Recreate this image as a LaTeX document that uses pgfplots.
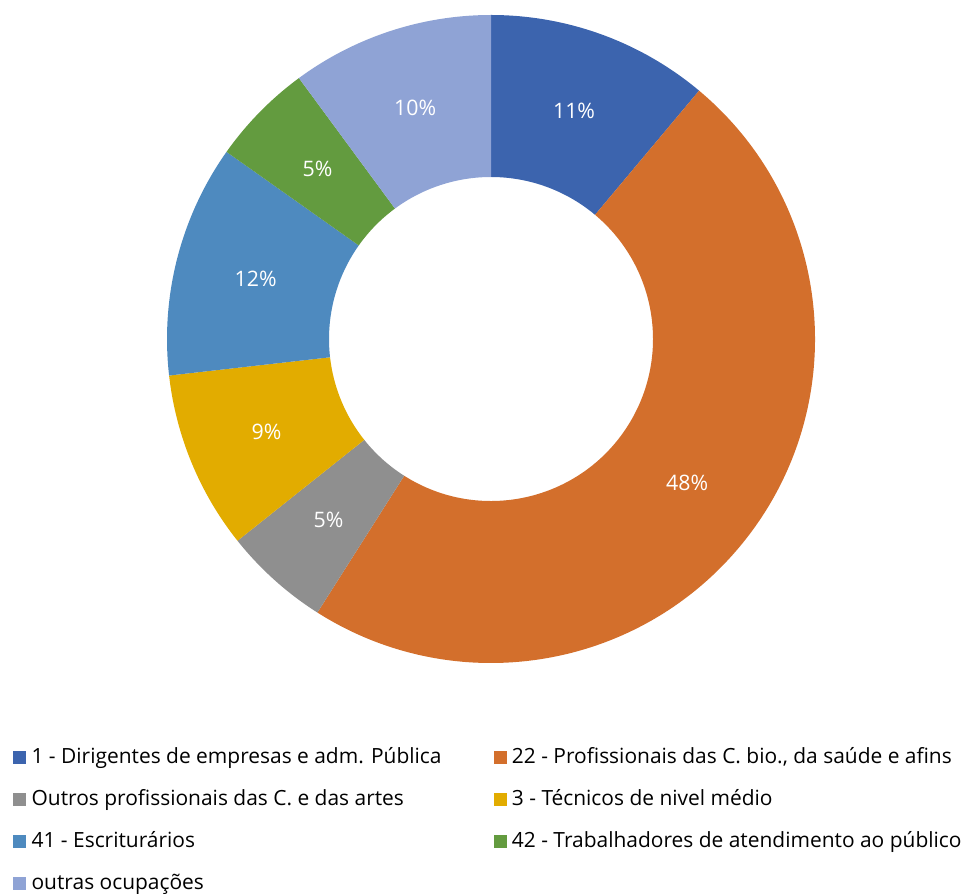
\documentclass[border=0pt]{standalone}
\usepackage{pgfplots}
\pgfplotsset{compat=1.18}
\usepackage{pgfplotstable}
\usepackage{fontspec}
\setmainfont{Open Sans}
\definecolor{c0}{HTML}{3C64AE}
\definecolor{c1}{HTML}{D36F2C}
\definecolor{c2}{HTML}{8F8F8F}
\definecolor{c3}{HTML}{E2AC00}
\definecolor{c4}{HTML}{4E8ABF}
\definecolor{c5}{HTML}{639B3F}
\definecolor{c6}{HTML}{8FA3D5}
\pgfplotsset{sq/.style={legend image code/.code={\fill[##1, draw=none] (0pt,-4.875pt) rectangle (9.75pt,4.875pt);}}}
\pgfplotstableread{
val
11.1
47.9
5.3
8.9
11.6
5.1
10.1
}\data
\newcommand\legfont{\fontsize{15.7}{18}\selectfont}
\newcommand\labfont{\fontsize{16}{18}\selectfont}
\begin{document}
\begin{tikzpicture}
\def\cx{491}\def\cy{553}\def\Ro{324}\def\Ri{162}
\def\cum{0}
\pgfplotsforeachungrouped \i in {0,...,6}{%
  \pgfplotstablegetelem{\i}{val}\of\data
  \let\v\pgfplotsretval
  \pgfmathsetmacro\a{90-3.6*\cum}%
  \pgfmathsetmacro\cum{\cum+\v}%
  \pgfmathsetmacro\b{90-3.6*\cum}%
  \pgfmathsetmacro\m{(\a+\b)/2}%
  \pgfmathsetmacro\ox{\cx+\Ro*cos(\a)}%
  \pgfmathsetmacro\oy{\cy+\Ro*sin(\a)}%
  \pgfmathsetmacro\ix{\cx+\Ri*cos(\b)}%
  \pgfmathsetmacro\iy{\cy+\Ri*sin(\b)}%
  \pgfmathsetmacro\lx{\cx+243*cos(\m)}%
  \pgfmathsetmacro\ly{\cy+243*sin(\m)}%
  \expandafter\xdef\csname sa\i\endcsname{\a}%
  \expandafter\xdef\csname sb\i\endcsname{\b}%
  \expandafter\xdef\csname ox\i\endcsname{\ox}%
  \expandafter\xdef\csname oy\i\endcsname{\oy}%
  \expandafter\xdef\csname ix\i\endcsname{\ix}%
  \expandafter\xdef\csname iy\i\endcsname{\iy}%
  \expandafter\xdef\csname lx\i\endcsname{\lx}%
  \expandafter\xdef\csname ly\i\endcsname{\ly}%
  \expandafter\xdef\csname sv\i\endcsname{\v}%
}
\begin{axis}[
  x=0.75pt, y=0.75pt,
  xmin=0, xmax=980, ymin=0, ymax=892,
  hide axis, clip=false,
  legend columns=2,
  legend cell align=left,
  legend style={at={(axis cs:13,145)}, anchor=north west, draw=none, fill=none,
    inner sep=0pt, font=\legfont, row sep=16.5pt,
    nodes={inner sep=0pt, text height=12pt, text depth=3pt},
    /tikz/every odd column/.append style={column sep=4pt},
    /tikz/every even column/.append style={column sep=39pt}},
]
\path (rel axis cs:0,0) rectangle (rel axis cs:1,1);
\pgfplotsinvokeforeach{0,...,6}{
  \fill[c#1] (axis cs:\csname ox#1\endcsname,\csname oy#1\endcsname)
    arc[start angle=\csname sa#1\endcsname, end angle=\csname sb#1\endcsname, radius=243pt]
    -- (axis cs:\csname ix#1\endcsname,\csname iy#1\endcsname)
    arc[start angle=\csname sb#1\endcsname, end angle=\csname sa#1\endcsname, radius=121.5pt]
    -- cycle;
  \node[text=white, font=\labfont] at (axis cs:\csname lx#1\endcsname,\csname ly#1\endcsname)
    {\pgfmathprintnumber[fixed,precision=0,assume math mode=true]{\csname sv#1\endcsname}\%};
}
\addlegendimage{sq, fill=c0}
\addlegendentry{1 - Dirigentes de empresas e adm. Pública}
\addlegendimage{sq, fill=c1}
\addlegendentry{22 - Profissionais das C. bio., da saúde e afins}
\addlegendimage{sq, fill=c2}
\addlegendentry{Outros profissionais das C. e das artes}
\addlegendimage{sq, fill=c3}
\addlegendentry{3 - Técnicos de nivel médio}
\addlegendimage{sq, fill=c4}
\addlegendentry{41 - Escriturários}
\addlegendimage{sq, fill=c5}
\addlegendentry{42 - Trabalhadores de atendimento ao público}
\addlegendimage{sq, fill=c6}
\addlegendentry{outras ocupações}
\end{axis}
\end{tikzpicture}
\end{document}
